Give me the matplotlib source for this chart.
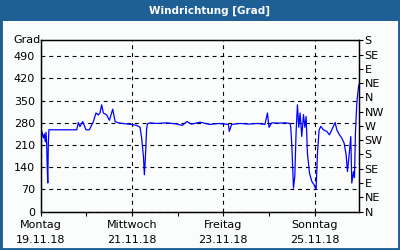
import matplotlib
matplotlib.use("Agg")
import matplotlib.pyplot as plt
from matplotlib.patches import Rectangle

# Windrichtung, Zeit in Tagen ab Montag 19.11.18 00:00
days = [0.00, 0.03, 0.058, 0.08, 0.10, 0.116, 0.13, 0.145, 0.155, 0.167, 0.18, 0.204,
        0.40, 0.60, 0.788, 0.825, 0.86, 0.92, 0.992, 1.065, 1.153, 1.21, 1.262, 1.30,
        1.335, 1.372, 1.445, 1.504, 1.577, 1.63, 1.70, 1.85, 1.993, 2.10, 2.175, 2.21,
        2.25, 2.27, 2.29, 2.32, 2.34, 2.39, 2.55, 2.75, 2.95, 3.10, 3.20, 3.30, 3.40,
        3.49, 3.70, 3.90, 4.11, 4.13, 4.18, 4.37, 4.55, 4.75, 4.91, 4.965, 5.00, 5.06,
        5.20, 5.35, 5.46, 5.476, 5.50, 5.535, 5.564, 5.593, 5.622, 5.651, 5.68, 5.717,
        5.754, 5.783, 5.812, 5.84, 5.885, 5.936, 5.987, 6.03, 6.06, 6.097, 6.133, 6.19,
        6.265, 6.323, 6.374, 6.447, 6.484, 6.542, 6.593, 6.644, 6.688, 6.717, 6.754,
        6.79, 6.812, 6.849, 6.871, 6.893, 6.922, 6.944, 6.966]
grad = [263, 250, 232, 245, 220, 250, 214, 132, 90, 215, 258, 258,
        258, 258, 258, 281, 268, 284, 258, 258, 284, 311, 305, 312,
        337, 311, 305, 288, 323, 284, 280, 277, 275, 272, 266, 232,
        174, 116, 163, 263, 277, 280, 278, 280, 277, 272, 284, 276, 279,
        282, 275, 278, 275, 253, 275, 278, 276, 278, 275, 311, 266, 280,
        279, 280, 278, 266, 205, 74, 111, 253, 337, 266, 311, 237,
        306, 266, 300, 185, 122, 95, 84, 69, 184, 258, 269, 258,
        253, 242, 258, 281, 258, 242, 232, 216, 179, 126, 179,
        237, 90, 126, 107, 253, 342, 374, 400]

tick_days = [0, 2, 4, 6]
tick_labels = ["Montag\n19.11.18", "Mittwoch\n21.11.18", "Freitag\n23.11.18", "Sonntag\n25.11.18"]
left_ticks = [0, 70, 140, 210, 280, 350, 420, 490]
right_ticks = [0, 45, 90, 135, 180, 225, 270, 315, 360, 405, 450, 495, 540]
right_labels = ["N", "NE", "E", "SE", "S", "SW", "W", "NW", "N", "NE", "E", "SE", "S"]

blue = "#1e5f96"
bg = "#fbfdfc"
plt.rcParams["font.family"] = "DejaVu Sans"
plt.rcParams["font.size"] = 8

fig = plt.figure(figsize=(4, 2.5), dpi=100, facecolor=bg)
# Rahmen und Titelleiste
fig.patches.append(Rectangle((0, 0), 1, 1, transform=fig.transFigure, fill=False,
                             edgecolor=blue, linewidth=3.5, zorder=0))
fig.patches.append(Rectangle((0, 1 - 20.5 / 250), 1, 20.5 / 250, transform=fig.transFigure,
                             facecolor=blue, edgecolor="none", zorder=1))
fig.text(209.5 / 400, 1 - 10.5 / 250, "Windrichtung [Grad]", color="white", ha="center",
         va="center", fontweight="bold", fontsize=7.5)

ax = fig.add_axes([40.7 / 400, 38.5 / 250, 318.3 / 400, 171 / 250])
ax.set_facecolor(bg)
ax.plot(days, grad, color="#0000ff", linewidth=0.9)
ax.set_xlim(0, 6.97)
ax.set_ylim(0, 540)

ax.set_yticks(left_ticks)
ax.tick_params(axis="y", length=0, pad=4)
ax.set_xticks(tick_days)
ax.set_xticklabels(tick_labels, linespacing=1.6)
ax.set_xticks([1, 3, 5], minor=True)
ax.tick_params(axis="x", which="both", length=3, width=0.8, direction="out", pad=3)
ax.grid(True, which="major", color="black", linestyle=(0, (3.5, 3.5)), linewidth=0.8)
for s in ax.spines.values():
    s.set_linewidth(0.9)
ax.text(0, 1, "Grad", transform=ax.transAxes, ha="right", va="center")

ax2 = ax.twinx()
ax2.set_ylim(0, 540)
ax2.set_yticks(right_ticks)
ax2.set_yticklabels(right_labels)
ax2.tick_params(axis="y", length=3, width=0.8, pad=1)
for s in ax2.spines.values():
    s.set_linewidth(0.9)

fig.savefig("out.png", dpi=100, facecolor=fig.get_facecolor())
